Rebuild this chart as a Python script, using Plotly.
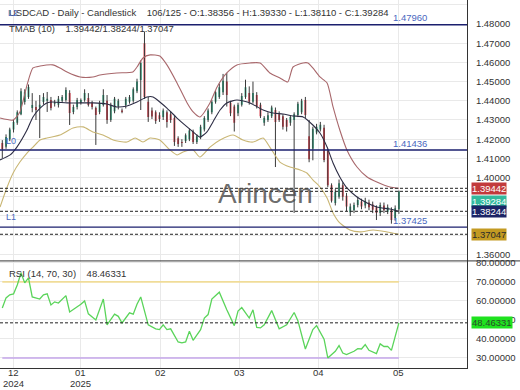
import plotly.graph_objects as go
from plotly.subplots import make_subplots

# ---------------- data ----------------
opens = [1.4180,1.4160,1.4200,1.4250,1.4285,1.4330,1.4394,1.4420,1.4363,1.4368,
         1.4365,1.4394,1.4400,1.4404,1.4385,1.4380,1.4400,1.4404,1.4440,1.4342,
         1.4368,1.4390,1.4404,1.4415,1.4390,1.4362,1.4342,1.4378,1.4400,1.4300,
         1.4345,1.4370,1.4350,1.4378,1.4395,1.4400,1.4450,1.4508,1.4700,1.4395,
         1.4350,1.4340,1.4325,1.4315,1.4340,1.4330,1.4310,1.4205,1.4185,1.4190,
         1.4200,1.4240,1.4185,1.4210,1.4250,1.4300,1.4340,1.4395,1.4420,1.4445,
         1.4500,1.4390,1.4370,1.4335,1.4380,1.4420,1.4440,1.4395,1.4430,1.4380,
         1.4285,1.4300,1.4320,1.4352,1.4330,1.4320,1.4300,1.4285,1.4300,1.4326,
         1.4340,1.4404,1.4215,1.4150,1.4235,1.4250,1.4260,1.4140,1.3960,1.3868,
         1.3900,1.3960,1.3905,1.3820,1.3830,1.3857,1.3875,1.3855,1.3870,1.3860,
         1.3845,1.3815,1.3855,1.3822,1.3830,1.3790,1.38356]
highs = [1.4195,1.4225,1.4260,1.4300,1.4350,1.4465,1.4460,1.4485,1.4440,1.4400,
         1.4430,1.4440,1.4446,1.4420,1.4405,1.4425,1.4430,1.4470,1.4455,1.4380,
         1.4415,1.4412,1.4460,1.4440,1.4400,1.4370,1.4400,1.4460,1.4430,1.4390,
         1.4420,1.4410,1.4360,1.4420,1.4430,1.4470,1.4515,1.4610,1.4760,1.4420,
         1.4365,1.4350,1.4340,1.4360,1.4350,1.4345,1.4320,1.4215,1.4200,1.4230,
         1.4255,1.4250,1.4225,1.4275,1.4320,1.4360,1.4405,1.4455,1.4490,1.4540,
         1.4545,1.4400,1.4380,1.4390,1.4440,1.4510,1.4475,1.4500,1.4445,1.4390,
         1.4320,1.4340,1.4375,1.4365,1.4345,1.4330,1.4310,1.4325,1.4340,1.4395,
         1.4410,1.4420,1.4300,1.4265,1.4280,1.4290,1.4275,1.4150,1.3970,1.3940,
         1.3990,1.3975,1.3920,1.3865,1.3870,1.3900,1.3890,1.3895,1.3885,1.3875,
         1.3855,1.3870,1.3870,1.3860,1.3845,1.3855,1.39330]
lows = [1.4102,1.4150,1.4190,1.4235,1.4275,1.4325,1.4380,1.4410,1.4340,1.4300,
        1.4206,1.4380,1.4342,1.4350,1.4370,1.4365,1.4390,1.4395,1.4274,1.4330,
        1.4355,1.4380,1.4395,1.4370,1.4355,1.4170,1.4330,1.4370,1.4280,1.4290,
        1.4335,1.4355,1.4335,1.4360,1.4385,1.4390,1.4440,1.4352,1.4410,1.4290,
        1.4305,1.4280,1.4290,1.4300,1.4260,1.4285,1.4165,1.4160,1.4160,1.4180,
        1.4190,1.4175,1.4175,1.4200,1.4240,1.4290,1.4330,1.4385,1.4410,1.4430,
        1.4370,1.4320,1.4240,1.4320,1.4370,1.4410,1.4380,1.4385,1.4360,1.4310,
        1.4270,1.4290,1.4310,1.4055,1.4290,1.4250,1.4240,1.4270,1.3816,1.4315,
        1.4330,1.4310,1.4080,1.4090,1.4225,1.4240,1.4080,1.3950,1.3870,1.3855,
        1.3890,1.3880,1.3825,1.3800,1.3815,1.3845,1.3835,1.3840,1.3830,1.3815,
        1.3779,1.3800,1.3815,1.3810,1.3760,1.3775,1.38110]
closes = [1.4149,1.4212,1.4250,1.4290,1.4340,1.4450,1.4445,1.4472,1.4378,1.4352,
          1.4380,1.4420,1.4410,1.4362,1.4392,1.4410,1.4420,1.4456,1.4337,1.4368,
          1.4404,1.4404,1.4440,1.4378,1.4368,1.4326,1.4389,1.4430,1.4300,1.4378,
          1.4410,1.4400,1.4342,1.4410,1.4420,1.4460,1.4500,1.4597,1.4420,1.4315,
          1.4318,1.4295,1.4305,1.4350,1.4290,1.4300,1.4185,1.4175,1.4180,1.4220,
          1.4245,1.4185,1.4215,1.4265,1.4310,1.4350,1.4395,1.4445,1.4470,1.4505,
          1.4430,1.4335,1.4285,1.4380,1.4425,1.4470,1.4395,1.4440,1.4370,1.4320,
          1.4310,1.4325,1.4365,1.4290,1.4300,1.4265,1.4265,1.4315,1.4330,1.4385,
          1.4400,1.4326,1.4095,1.4255,1.4265,1.4275,1.4092,1.3960,1.3880,1.3925,
          1.3970,1.3900,1.3850,1.3850,1.3857,1.3883,1.3850,1.3880,1.3845,1.3832,
          1.3815,1.3857,1.3830,1.3845,1.3779,1.3840,1.39284]

# TMAB (10) bands: (candle index, price)
upper_idx = [-0.6,2.9,4.7,6.6,8.2,10.1,13.5,15.4,17.3,20.8,24.2,26.1,30.6,34.9,36.0,37.6,39.5,42.1,44.0,
             46.7,49.4,51.0,52.8,55.5,57.4,60.0,62.7,66.2,68.9,71.5,74.2,76.3,77.7,80.4,81.7,83.0,84.9,
             86.8,88.4,90.2,92.1,94.8,97.5,100.1,103.6,106]
upper_val = [1.4310,1.4300,1.4342,1.4482,1.4571,1.4581,1.4587,1.4571,1.4550,1.4524,1.4524,1.4534,1.4545,
             1.4550,1.4576,1.4623,1.4639,1.4633,1.4587,1.4493,1.4389,1.4342,1.4316,1.4389,1.4472,1.4545,
             1.4587,1.4597,1.4597,1.4545,1.4519,1.4498,1.4576,1.4597,1.4597,1.4571,1.4524,1.4493,1.4368,
             1.4248,1.4144,1.4055,1.4003,1.3977,1.3951,1.39442]
mid_idx = [-0.6,2.1,3.9,6.6,8.2,10.1,11.9,13.5,17.3,20.8,24.2,28.0,30.6,33.3,36.0,38.7,40.3,42.1,44.0,
           46.7,49.4,51.0,52.8,54.7,56.3,58.2,60.0,62.7,66.2,69.7,72.3,75.0,77.7,80.4,83.0,84.9,86.8,
           88.4,90.2,92.1,94.8,97.5,100.1,103.6,106]
mid_val = [1.4092,1.4118,1.4159,1.4248,1.4316,1.4362,1.4389,1.4394,1.4389,1.4389,1.4389,1.4383,1.4368,
           1.4373,1.4394,1.4420,1.4420,1.4394,1.4362,1.4310,1.4264,1.4238,1.4211,1.4238,1.4290,1.4352,
           1.4389,1.4404,1.4389,1.4352,1.4336,1.4331,1.4321,1.4316,1.4274,1.4232,1.4159,1.4076,1.4003,
           1.3946,1.3899,1.3868,1.3847,1.3836,1.38244]
lower_idx = [-0.6,1.3,2.9,4.7,6.6,8.2,10.1,11.9,15.4,18.9,21.6,24.2,26.9,29.6,33.3,35.5,37.6,39.5,42.1,
             44.8,46.7,48.3,51.0,52.8,55.5,58.2,61.7,64.3,67.0,69.7,71.5,74.2,76.9,79.6,81.4,83.0,84.9,
             86.8,88.4,90.2,92.9,95.6,99.1,102.8,106]
lower_val = [1.3847,1.3951,1.4024,1.4081,1.4128,1.4159,1.4196,1.4206,1.4222,1.4258,1.4264,1.4238,1.4222,
             1.4196,1.4185,1.4206,1.4185,1.4206,1.4196,1.4144,1.4118,1.4133,1.4144,1.4107,1.4159,1.4196,
             1.4222,1.4196,1.4185,1.4206,1.4159,1.4081,1.4055,1.4040,1.4024,1.3988,1.3951,1.3894,1.3816,
             1.3764,1.3727,1.3717,1.3727,1.3717,1.37047]

# RSI (14): (candle index, value)
rsi_idx = [0,1,2,3,4,5,6,7,8,10,11,12,13,14,15,17,18,20,21,22,23,25,27,28,30,31,32,34,35,36,37,39,41,
           42,43,44,45,47,48,49,50,51,53,54,55,56,58,60,62,63,64,66,67,68,69,70,72,74,76,78,79,81,83,
           84,86,87,89,90,91,92,94,95,96,97,98,100,101,102,103,104,106]
rsi_val = [56.3,61.6,63.2,63.7,68.4,74.7,69.5,72.1,62.1,61.0,63.2,63.7,57.9,59.5,58.9,62.8,54.2,56.8,
           58.2,60.0,53.2,50.0,61.0,47.4,53.0,51.9,48.4,53.7,53.0,58.2,62.1,47.4,45.3,44.9,47.4,44.9,
           45.3,38.4,37.9,38.4,44.0,39.3,44.9,51.0,52.8,61.0,64.6,55.4,47.0,54.7,56.5,51.0,55.3,46.1,
           45.8,47.4,54.9,45.3,47.4,53.9,49.6,34.7,44.9,47.0,39.9,30.0,33.5,36.5,32.6,31.8,33.5,34.9,
           34.7,37.0,34.0,32.3,37.4,36.0,36.1,34.0,48.46331]

# levels
level_L2 = 1.47960
level_L0 = 1.41436
level_L1 = 1.37425
tmab_up, tmab_mid, tmab_low = 1.39442, 1.38244, 1.37047
last_close = 1.39284
rsi_last = 48.46331
rsi_hi, rsi_lo = 70, 30

price_ticks = [1.36, 1.37, 1.38, 1.39, 1.40, 1.41, 1.42, 1.43, 1.44, 1.45, 1.46, 1.47, 1.48, 1.49]
price_hidden = [1.37, 1.38, 1.39]
rsi_ticks = [30, 40, 50, 60, 70, 80]
month_pos = [2.9, 21.0, 42.4, 63.5, 84.6, 106.0]
month_txt = ["12", "01", "02", "03", "04", "05"]
year_pos = [2.9, 21.0]
year_txt = ["2024", "2025"]

# ---------------- figure ----------------
FONT = "Liberation Sans, Arial, sans-serif"
GRID = "#e9e9e9"
NAVY = "#1b1f6e"
x = list(range(len(closes)))

fig = make_subplots(rows=2, cols=1, shared_xaxes=True, vertical_spacing=0,
                    row_heights=[0.709, 0.291])

# wicks
wx, wy = [], []
for i, (h, l) in enumerate(zip(highs, lows)):
    wx += [i, i, None]
    wy += [h, l, None]
fig.add_trace(go.Scatter(x=wx, y=wy, mode="lines", line=dict(color="#3a3a3a", width=1),
                         hoverinfo="skip", showlegend=False), row=1, col=1)

fig.add_trace(go.Candlestick(x=x, open=opens, high=highs, low=lows, close=closes,
                             increasing=dict(fillcolor="#2aa882", line=dict(color="#2aa882", width=0)),
                             decreasing=dict(fillcolor="#e23c4a", line=dict(color="#e23c4a", width=0)),
                             whiskerwidth=0, showlegend=False), row=1, col=1)

for xi, yv, col in [(upper_idx, upper_val, "#a8676b"), (mid_idx, mid_val, "#2c2c44"),
                    (lower_idx, lower_val, "#c9b674")]:
    fig.add_trace(go.Scatter(x=xi, y=yv, mode="lines",
                             line=dict(color=col, width=1.1, shape="spline", smoothing=0.6),
                             hoverinfo="skip", showlegend=False), row=1, col=1)

# RSI
fig.add_trace(go.Scatter(x=[x[0], x[-1]], y=[rsi_hi, rsi_hi], mode="lines",
                         line=dict(color="#f0dc98", width=1.6), showlegend=False), row=2, col=1)
fig.add_trace(go.Scatter(x=[x[0], x[-1]], y=[rsi_lo, rsi_lo], mode="lines",
                         line=dict(color="#c4a6ea", width=1.6), showlegend=False), row=2, col=1)
fig.add_trace(go.Scatter(x=rsi_idx, y=rsi_val, mode="lines",
                         line=dict(color="#5ad45a", width=1.3), showlegend=False), row=2, col=1)

shapes = []
for lv in [level_L2, level_L0, level_L1]:
    shapes.append(dict(type="line", xref="paper", x0=0, x1=1, yref="y", y0=lv, y1=lv,
                       line=dict(color=NAVY, width=1.3)))
for lv in [tmab_up, last_close, tmab_mid, tmab_low]:
    shapes.append(dict(type="line", xref="paper", x0=0, x1=1, yref="y", y0=lv, y1=lv,
                       line=dict(color="#222", width=1, dash="3px,2px")))
shapes.append(dict(type="line", xref="paper", x0=0, x1=1, yref="y2", y0=rsi_last, y1=rsi_last,
                   line=dict(color="#222", width=1, dash="3px,2px")))
# panel separator
shapes.append(dict(type="line", xref="paper", x0=0, x1=1.12, yref="paper", y0=0.291, y1=0.291,
                   line=dict(color="#333", width=1)))

ann = []
def txt(s, xp, y, yref="paper", color="#333", size=9.5, xanchor="left", xref="paper", **kw):
    ann.append(dict(text=s, x=xp, y=y, xref=xref, yref=yref, showarrow=False,
                    xanchor=xanchor, yanchor="middle", font=dict(family=FONT, size=size, color=color), **kw))

txt("USDCAD - Daily - Candlestick\u00a0\u00a0\u00a0\u00a0106/125 - O:1.38356 - H:1.39330 - L:1.38110 - C:1.39284",
    0.015, 1 - 12.5 / 368)
txt("TMAB (10)\u00a0\u00a0\u00a0\u00a01.39442/1.38244/1.37047", 0.015, 1 - 29 / 368)
txt("RSI (14, 70, 30)\u00a0\u00a0\u00a0\u00a048.46331", 0.015, 1 - 273 / 368)
txt("L2", 0.012, 1 - 13 / 368, color="#4a68c0", size=9)
txt("L0", 0.008, level_L0, yref="y", color="#4a68c0", size=9, yshift=9)
txt("L1", 0.008, level_L1, yref="y", color="#4a68c0", size=9, yshift=10)
for lv in [level_L2, level_L0, level_L1]:
    txt(f"{lv:.5f}", 0.918, lv, yref="y", color="#4a68c0", size=9.5, xanchor="right", yshift=7)
txt("Arincen", 0.568, 1 - 193 / 368, color="rgba(70,70,70,0.8)", size=28, xanchor="center")
# month + year labels as annotations below the time axis
for xp, t in zip(month_pos, month_txt):
    txt(t, xp, -4.5 / 368, xref="x2", xanchor="center", size=9.5)
for xp, t in zip(year_pos, year_txt):
    txt(t, xp, -15.5 / 368, xref="x2", xanchor="center", size=9.5)

def box(val, yref, bg, fg, yshift=0, fmt="{:.5f}"):
    ann.append(dict(text=fmt.format(val), x=1, y=val, xref="paper", yref=yref, showarrow=False,
                    xanchor="left", yanchor="middle", xshift=4, yshift=yshift, bgcolor=bg, borderpad=0,
                    font=dict(family=FONT, size=9.5, color=fg)))

box(tmab_up, "y", "#c23a3c", "#ffffff")
box(last_close, "y", "#33b99d", "#ffffff", yshift=-10)
box(tmab_mid, "y", "#1c2466", "#ffffff")
box(tmab_low, "y", "#c39a22", "#2a2a2a")
box(rsi_last, "y2", "#1fe21f", "#2c4a2c")

fig.update_layout(
    width=520, height=390, margin=dict(l=0, r=53, t=0, b=22, autoexpand=False),
    paper_bgcolor="white", plot_bgcolor="white", showlegend=False,
    shapes=shapes, annotations=ann, font=dict(family=FONT, size=9.5, color="#333"),
)
xr = [-0.615, 124.2]
fig.update_xaxes(range=xr, rangeslider_visible=False, tickvals=month_pos, ticktext=month_txt,
                 showgrid=True, gridcolor=GRID, gridwidth=1, zeroline=False, ticks="",
                 showticklabels=False, automargin=False)
fig.update_xaxes(showline=True, linecolor="#333", linewidth=1, row=2, col=1)
fig.update_yaxes(side="right", range=[1.3566, 1.4925], tickvals=price_ticks,
                 ticktext=["" if t in price_hidden else f"{t:.5f}" for t in price_ticks],
                 showgrid=True, gridcolor=GRID, zeroline=False, showline=True, linecolor="#333",
                 linewidth=1, ticks="", ticklabelstandoff=6, automargin=False,
                 tickfont=dict(size=9.5, color="#333"), row=1, col=1)
fig.update_yaxes(side="right", range=[24.7, 81.05], tickvals=rsi_ticks,
                 ticktext=[f"{t:.5f}" for t in rsi_ticks],
                 showgrid=True, gridcolor=GRID, zeroline=False, showline=True, linecolor="#333",
                 linewidth=1, ticks="", ticklabelstandoff=6, automargin=False,
                 tickfont=dict(size=9.5, color="#333"), row=2, col=1)

fig.write_html("out.html", config={"displayModeBar": False},
               post_script="document.body.style.margin='0';document.body.style.overflow='hidden';")
